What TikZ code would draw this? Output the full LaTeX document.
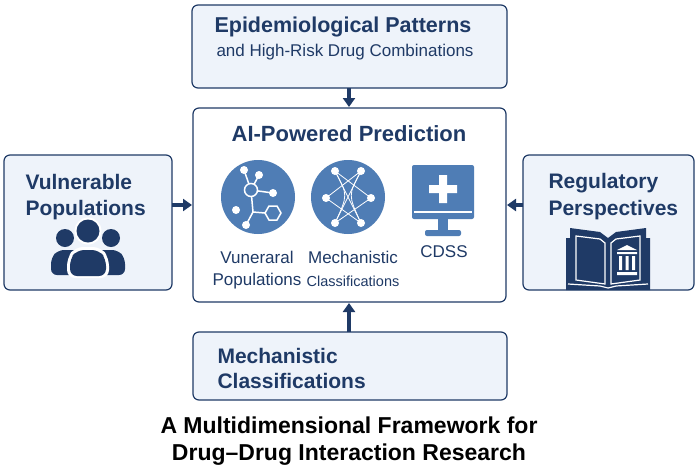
\documentclass[tikz,border=0pt]{standalone}
\usepackage{fontspec}
\setmainfont{Liberation Sans}
\usepackage{tikz}
\usetikzlibrary{arrows.meta}
\definecolor{navy}{HTML}{1F3A66}
\definecolor{pale}{HTML}{EEF3FA}
\definecolor{icon}{HTML}{4F7DB5}
\tikzset{
  box/.style={draw=navy, line width=1.2pt, rounded corners=6pt},
  flow/.style={-{Triangle[length=9pt,width=12pt]}, navy, line width=3.5pt},
  hd/.style={font=\fontsize{21}{24}\selectfont\bfseries, text=navy, anchor=west},
  lbl/.style={font=\fontsize{17}{19}\selectfont, text=navy},
  dot/.style={circle, fill=white, inner sep=0pt, minimum size=8pt}
}
\begin{document}
\begin{tikzpicture}[x=1pt,y=-1pt]
\useasboundingbox (0,0) rectangle (699,472);
% boxes
\draw[box, fill=pale] (192,5) rectangle (507,88);
\draw[box, fill=white] (193,108) rectangle (506,302);
\draw[box, fill=pale] (4,155) rectangle (172,290);
\draw[box, fill=pale] (523,155) rectangle (694,290);
\draw[box, fill=pale] (193,332) rectangle (507,400);
% anchors for the arrows
\coordinate (topout) at (349,88);
\coordinate (topin) at (349,107);
\coordinate (botout) at (349,332);
\coordinate (botin) at (349,303);
\coordinate (leftout) at (172,205);
\coordinate (leftin) at (192,205);
\coordinate (rightout) at (523,205);
\coordinate (rightin) at (507,205);
\draw[flow] (topout) -- (topin);
\draw[flow] (botout) -- (botin);
\draw[flow] (leftout) -- (leftin);
\draw[flow] (rightout) -- (rightin);
% texts
\node[hd, font=\fontsize{21.5}{24}\selectfont\bfseries] (epi) at (211,27) {Epidemiological Patterns};
\node[lbl, anchor=west] (episub) at (213,52) {and High-Risk Drug Combinations};
\node[font=\fontsize{22}{26}\selectfont\bfseries, text=navy] (ai) at (349,134) {AI-Powered Prediction};
\node[hd] (vul1) at (22,182) {Vulnerable};
\node[hd] (vul2) at (22,210) {Populations};
\node[hd] (reg1) at (545,183) {Regulatory};
\node[hd] (reg2) at (545,210) {Perspectives};
\node[hd] (mec1) at (214,356) {Mechanistic};
\node[hd] (mec2) at (214,381) {Classifications};
\node[font=\fontsize{23}{26}\selectfont\bfseries] (title1) at (349,425) {A Multidimensional Framework for};
\node[font=\fontsize{23}{26}\selectfont\bfseries] (title2) at (349,455) {Drug--Drug Interaction Research};
\node[lbl] (c1a) at (257,257) {Vuneraral};
\node[lbl] (c1b) at (257,281) {Populations};
\node[lbl] (c2a) at (353,257) {Mechanistic};
\node[lbl, font=\fontsize{14.5}{16}\selectfont] (c2b) at (353,281) {Classifications};
\node[lbl] (c3) at (444,252) {CDSS};
% icon: molecule
\fill[icon] (258,197) circle (37);
\begin{scope}[white, line width=1.5pt]
\draw (244,170) -- (251,190) -- (259,175);
\draw (251,190) -- (273,193);
\draw (251,190) -- (253,212) -- (246,225);
\draw (253,212) -- (265,213);
\draw (265,213) -- ++(4,-7) -- ++(8,0) -- ++(4,7) -- ++(-4,7) -- ++(-8,0) -- cycle;
\draw[fill=icon] (251,190) circle (6.5);
\end{scope}
\foreach \p in {(244,170),(259,175),(273,193),(236,210),(246,225)}
  \node[dot] at \p {};
% icon: network
\fill[icon] (348,197) circle (37);
\begin{scope}[white, line width=0.8pt]
\draw (335,171) -- (371,198) -- (335,223);
\draw (361,171) -- (326,198) -- (361,223);
\draw (335,171) -- (361,223) (361,171) -- (335,223);
\draw (335,171) .. controls (348,195) .. (335,223);
\draw (361,171) .. controls (348,195) .. (361,223);
\end{scope}
\foreach \p in {(335,171),(361,171),(326,198),(371,198),(335,223),(361,223)}
  \node[dot] at \p {};
% icon: monitor
\fill[icon, rounded corners=2pt] (412,165) rectangle (474,219);
\fill[white] (414,211) rectangle (472,213);
\fill[icon] (438,219) rectangle (448,230);
\fill[icon, rounded corners=2pt] (425,230) rectangle (461,236);
\fill[white] (439,175) rectangle (447,203) (429,185) rectangle (457,193);
% icon: people
\begin{scope}[navy]
\fill (65,238) circle (9) (111,238) circle (9) (88,231) circle (11.5);
\fill[rounded corners=6pt] (51,275) -- (51,258) -- (58,250) -- (79,250) -- (79,275) -- cycle;
\fill[rounded corners=6pt] (125,275) -- (125,258) -- (118,250) -- (97,250) -- (97,275) -- cycle;
\fill[white, rounded corners=8pt] (67,278) -- (67,258) -- (75,247) -- (101,247) -- (109,258) -- (109,278) -- cycle;
\fill[rounded corners=7pt] (70,276) -- (70,259) -- (77,250) -- (99,250) -- (106,259) -- (106,276) -- cycle;
\fill[white] (88,231) circle (13.5);
\fill (88,231) circle (11.5);
\end{scope}
% icon: book
\begin{scope}[navy]
\fill (570,238) -- (570,228) -- (600,232) -- (608,238) -- (616,232) -- (646,228) -- (646,238) -- (650,238) -- (650,290) -- (566,290) -- (566,238) -- cycle;
\draw[white, line width=1.2pt] (576,236) -- (600,239) -- (605,243) -- (605,284) -- (576,280) -- cycle;
\draw[white, line width=1.2pt] (640,236) -- (616,239) -- (611,243) -- (611,284) -- (640,280) -- cycle;
\draw[white, line width=1.2pt] (568,284) -- (600,286) -- (608,288) -- (616,286) -- (648,284);
\fill[white] (617,250) -- (627,245) -- (637,250) -- cycle;
\fill[white] (617,252) rectangle (637,254) (619,256) rectangle (622,270) (625.5,256) rectangle (628.5,270) (632,256) rectangle (635,270) (617,272) rectangle (637,275);
\end{scope}
\end{tikzpicture}
\end{document}
